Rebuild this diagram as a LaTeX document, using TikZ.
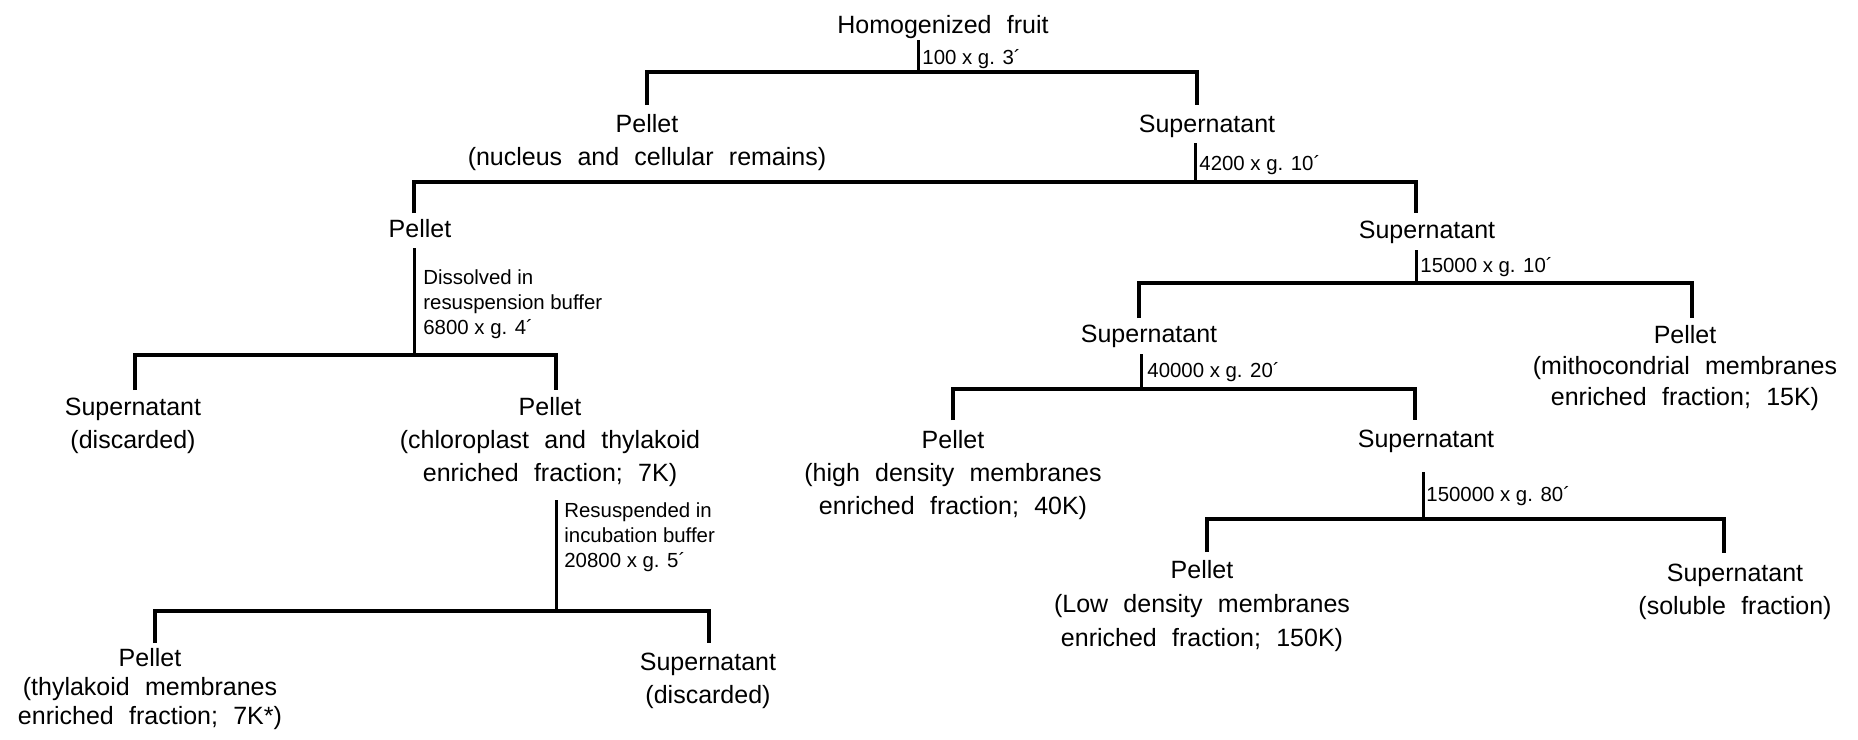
\documentclass[tikz,border=0pt]{standalone}
\usepackage{fontspec}
\setmainfont{Liberation Sans}[WordSpace=2.2]
\newfontfamily\LabFam{Liberation Sans}
\newcommand\MyMain{\fontsize{12.5pt}{16.5pt}\selectfont}
\newcommand\MyLab{\LabFam\fontsize{10.2pt}{12.5pt}\selectfont}
\newcommand\TS{\rule{0pt}{11.5pt}}
\newcommand\LS{\rule{0pt}{8pt}}
\begin{document}
\begin{tikzpicture}[x=0.5pt, y=-0.5pt,
  item/.style={font=\MyMain, align=center, anchor=north, inner sep=0pt},
  cf/.style={font=\MyLab, anchor=base west, inner sep=0pt},
  cfm/.style={font=\MyLab, align=left, anchor=north west, inner sep=0pt},
  br/.style={line width=1.75pt},
  brthin/.style={line width=1.6pt},
  stem/.style={line width=1.5pt}]
\fill[white] (0,0) rectangle (1858,739);
\useasboundingbox (0,0) rectangle (1858,739);

% ---------- text nodes ----------
\node[item] (root) at (943,10) {\TS Homogenized fruit};
\node[item] (p1) at (647,109) {\TS Pellet\\(nucleus and cellular remains)};
\node[item] (s1) at (1207,109) {\TS Supernatant};
\node[item] (p2) at (420,214) {\TS Pellet};
\node[item] (s2) at (1427,215) {\TS Supernatant};
\node[item] (s3a) at (133,392) {\TS Supernatant\\(discarded)};
\node[item] (p3) at (550,392) {\TS Pellet\\(chloroplast and thylakoid\\enriched fraction; 7K)};
\node[item, font=\fontsize{12.5pt}{14.5pt}\selectfont] (p4) at (150,643) {\TS Pellet\\(thylakoid membranes\\enriched fraction; 7K*)};
\node[item] (s4) at (708,647) {\TS Supernatant\\(discarded)};
\node[item] (s3b) at (1149,319) {\TS Supernatant};
\node[item, font=\fontsize{12.5pt}{15.5pt}\selectfont] (p15) at (1685,320) {\TS Pellet\\(mithocondrial membranes\\enriched fraction; 15K)};
\node[item] (p40) at (953,425) {\TS Pellet\\(high density membranes\\enriched fraction; 40K)};
\node[item] (s40) at (1426,424) {\TS Supernatant};
\node[item, font=\fontsize{12.5pt}{17pt}\selectfont] (p150) at (1202,555) {\TS Pellet\\(Low density membranes\\enriched fraction; 150K)};
\node[item] (s150) at (1735,558) {\TS Supernatant\\(soluble fraction)};

% ---------- condition labels ----------
\node[cf] (l0) at (922,64) {100 x g. 3´};
\node[cf] (l1) at (1199,170) {4200 x g. 10´};
\node[cfm] (l2) at (423,268) {\LS Dissolved in\\resuspension buffer\\6800 x g. 4´};
\node[cfm] (l3) at (564,501) {\LS Resuspended in\\incubation buffer\\20800 x g. 5´};
\node[cf] (l4) at (1420,272) {15000 x g. 10´};
\node[cf] (l5) at (1147,377) {40000 x g. 20´};
\node[cf] (l6) at (1426,501) {150000 x g. 80´};

% ---------- connector points ----------
\coordinate (root-s) at (918,40);   \coordinate (root-j) at (918,72);
\coordinate (p1-t) at (647,105);    \coordinate (s1-t) at (1197,105);
\coordinate (s1-s) at (1195,143);   \coordinate (s1-j) at (1195,182);
\coordinate (p2-t) at (414,213);    \coordinate (s2-t) at (1416,213);
\coordinate (p2-s) at (414,248);    \coordinate (p2-j) at (414,355);
\coordinate (s3a-t) at (135,390);   \coordinate (p3-t) at (556,390);
\coordinate (p3-s) at (556,500);    \coordinate (p3-j) at (556,611);
\coordinate (p4-t) at (155,643);    \coordinate (s4-t) at (709,643);
\coordinate (s2-s) at (1416,250);   \coordinate (s2-j) at (1416,283);
\coordinate (s3b-t) at (1139,318);  \coordinate (p15-t) at (1692,318);
\coordinate (s3b-s) at (1141,354);  \coordinate (s3b-j) at (1141,389);
\coordinate (p40-t) at (953,420);   \coordinate (s40-t) at (1415,420);
\coordinate (s40-s) at (1423,472);  \coordinate (s40-j) at (1423,519);
\coordinate (p150-t) at (1207,552); \coordinate (s150-t) at (1724,553);

% ---------- connectors ----------
\draw[stem] (root-s) -- (root-j);
\draw[br] (p1-t) |- (root-j) -| (s1-t);
\draw[stem] (s1-s) -- (s1-j);
\draw[br] (p2-t) |- (s1-j) -| (s2-t);
\draw[stem] (p2-s) -- (p2-j);
\draw[br] (s3a-t) |- (p2-j) -| (p3-t);
\draw[stem] (p3-s) -- (p3-j);
\draw[br] (p4-t) |- (p3-j) -| (s4-t);
\draw[stem] (s2-s) -- (s2-j);
\draw[br] (s3b-t) |- (s2-j) -| (p15-t);
\draw[stem] (s3b-s) -- (s3b-j);
\draw[brthin] (p40-t) |- (s3b-j) -| (s40-t);
\draw[stem] (s40-s) -- (s40-j);
\draw[brthin] (p150-t) |- (s40-j) -| (s150-t);
\end{tikzpicture}
\end{document}
